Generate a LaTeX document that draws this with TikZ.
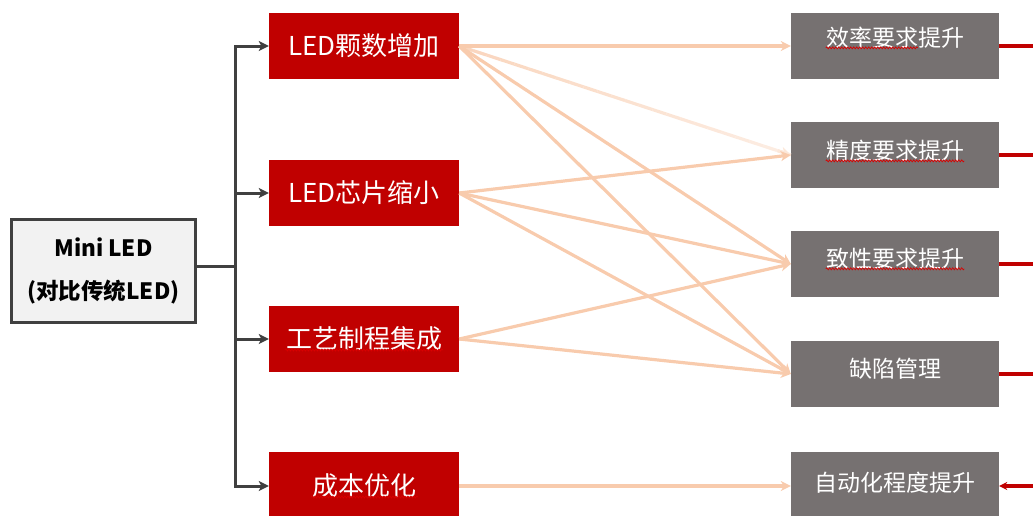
\documentclass[tikz,border=0pt]{standalone}
\usepackage{fontspec}
\newfontfamily\cjk{Noto Sans CJK SC}
\usetikzlibrary{arrows.meta,calc,decorations.pathmorphing}
\definecolor{boxred}{HTML}{C00000}
\definecolor{boxgray}{HTML}{767171}
\definecolor{peach}{HTML}{F8CBAD}
\definecolor{darkline}{HTML}{404040}
\definecolor{lightfill}{HTML}{F2F2F2}
\begin{document}
\begin{tikzpicture}[x=1pt,y=-1pt,
 redbox/.style={fill=boxred, draw=none, minimum width=190pt, minimum height=66pt, inner sep=0pt, text=white, font=\cjk\fontsize{26}{30}\selectfont},
 graybox/.style={fill=boxgray, draw=none, minimum width=208pt, minimum height=66pt, inner sep=0pt},
 graytext/.style={text=white, font=\cjk\fontsize{23}{27}\selectfont, inner sep=0pt},
 feed/.style={draw=darkline, line width=3pt},
 feedarrow/.style={feed, -{Stealth[length=10pt,width=10pt,inset=2.5pt]}},
 link/.style={draw=peach, line width=3.2pt, -{Stealth[length=10pt,width=10pt,inset=3pt]}},
 outline/.style={draw=boxred, line width=3.5pt},
 spell/.style={draw=red!85!black, line width=0.7pt, decorate, decoration={snake, amplitude=1pt, segment length=3pt}}
]
\useasboundingbox (0,0) rectangle (1033,515);

% source box
\node[draw=darkline, line width=3pt, fill=lightfill, minimum width=184pt, minimum height=103pt,
      inner sep=0pt, align=center, font=\cjk\bfseries\fontsize{22.5}{43}\selectfont] (src) at (103.5,271)
      {Mini LED\\(对比传统LED)};

% red boxes
\node[redbox] (r1) at (364,46) {LED颗数增加};
\node[redbox] (r2) at (364,193) {LED芯片缩小};
\node[redbox] (r3) at (364,339) {工艺制程集成};
\node[redbox, minimum height=68pt] (r4) at (364,486) {成本优化};

% gray boxes
\node[graybox] (g1) at (895,46) {};
\node[graybox] (g2) at (895,155) {};
\node[graybox] (g3) at (895,264) {};
\node[graybox] (g4) at (895,374) {};
\node[graybox, minimum height=68pt] (g5) at (895,486) {};
\node[graytext] (t1) at ([yshift=8pt]g1.center) {效率要求提升};
\node[graytext] (t2) at ([yshift=4pt]g2.center) {精度要求提升};
\node[graytext] (t3) at ([yshift=5pt]g3.center) {致性要求提升};
\node[graytext] (t4) at ([yshift=5pt]g4.center) {缺陷管理};
\node[graytext] (t5) at ([yshift=3pt]g5.center) {自动化程度提升};

% spell-check underlines
\draw[spell] ([yshift=1pt]t1.south west) -- ($([yshift=1pt]t1.south west)!0.667!([yshift=1pt]t1.south east)$);
\draw[spell] ([yshift=1pt]t2.south west) -- ([yshift=1pt]t2.south east);
\draw[spell] ([yshift=1pt]t3.south west) -- ([yshift=1pt]t3.south east);
\draw[spell] ([xshift=-79pt,yshift=-11pt]r3.center) -- ([xshift=79pt,yshift=-11pt]r3.center);
\draw[spell] ([xshift=-53pt,yshift=-11pt]r4.center) -- ([xshift=54pt,yshift=-11pt]r4.center);

% tree connector
\coordinate (tk) at (235,0);
\coordinate (j) at ([yshift=5pt]src.east);
\draw[feed] (j) -- (j -| tk);
\draw[feedarrow] (j -| tk) |- (r1.west);
\draw[feedarrow] (j -| tk) |- (r2.west);
\draw[feedarrow] (j -| tk) |- (r3.west);
\draw[feedarrow] (j -| tk) |- (r4.west);

% faded link r1 -> g2
\foreach \i in {0,...,23}{
  \pgfmathsetmacro\a{\i/24}
  \pgfmathsetmacro\b{(\i+1)/24}
  \pgfmathtruncatemacro\c{80-\i*2}
  \draw[draw=peach!\c!white, line width=3.2pt] ($(r1.east)!\a!(g2.west)$) -- ($(r1.east)!\b!(g2.west)$);
}
\draw[link, draw=peach!45!white] ($(r1.east)!0.96!(g2.west)$) -- (g2.west);

% links
\draw[link] (r1.east) -- (g1.west);
\draw[link] (r1.east) -- (g3.west);
\draw[link] (r1.east) -- (g4.west);
\draw[link] (r2.east) -- (g2.west);
\draw[link] (r2.east) -- (g3.west);
\draw[link] (r2.east) -- (g4.west);
\draw[link] (r3.east) -- (g3.west);
\draw[link] (r3.east) -- (g4.west);
\draw[link] (r4.east) -- (g5.west);

% right-side red lines
\coordinate (re) at (1033,0);
\draw[outline] (g1.east) -- (g1.east -| re);
\draw[outline] (g2.east) -- (g2.east -| re);
\draw[outline] (g3.east) -- (g3.east -| re);
\draw[outline] (g4.east) -- (g4.east -| re);
\draw[outline, {Stealth[length=8pt,width=8pt]}-] (g5.east) -- (g5.east -| re);
\end{tikzpicture}
\end{document}
